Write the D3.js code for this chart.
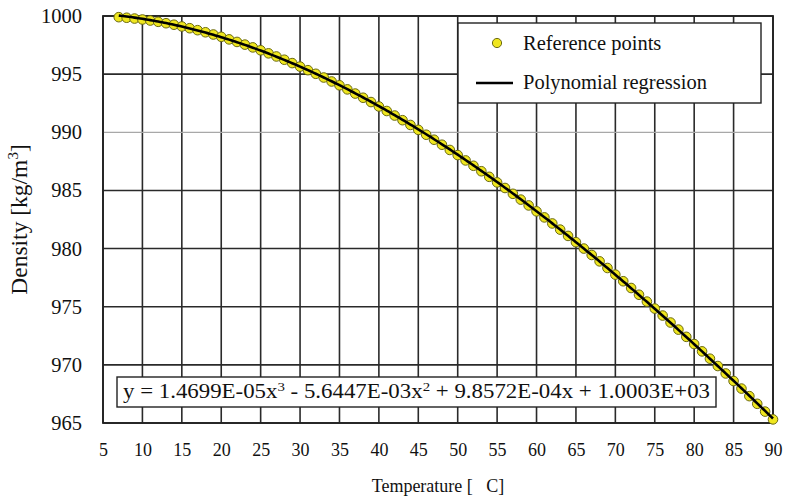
<!DOCTYPE html>
<html>
<head>
<meta charset="utf-8">
<script src="https://cdn.jsdelivr.net/npm/d3@7"></script>
<style>
  html, body { margin: 0; padding: 0; background: #fff; }
  svg { display: block; }
</style>
</head>
<body>
<svg id="chart" width="789" height="498"></svg>
<script>
// Water density reference points (kg/m3) by temperature (°C)
const temperatures = d3.range(7, 91);
const densities = [
  999.90, 999.85, 999.78, 999.70, 999.61, 999.50, 999.38, 999.25, 999.10, 998.95,
  998.78, 998.60, 998.41, 998.21, 997.99, 997.77, 997.54, 997.30, 997.05, 996.79,
  996.52, 996.24, 995.95, 995.65, 995.34, 995.03, 994.71, 994.37, 994.04, 993.69,
  993.33, 992.97, 992.60, 992.22, 991.83, 991.44, 991.04, 990.63, 990.21, 989.79,
  989.36, 988.93, 988.48, 988.04, 987.58, 987.12, 986.65, 986.17, 985.69, 985.21,
  984.71, 984.21, 983.71, 983.20, 982.68, 982.16, 981.63, 981.09, 980.55, 980.00,
  979.45, 978.90, 978.33, 977.76, 977.19, 976.61, 976.03, 975.44, 974.84, 974.24,
  973.64, 973.03, 972.41, 971.79, 971.16, 970.53, 969.90, 969.26, 968.61, 967.96,
  967.31, 966.65, 965.98, 965.31
];
// Cubic regression coefficients: a3, a2, a1, a0
const coefficients = [1.4699E-05, -5.6447E-03, 9.8572E-04, 1.0003E+03];
const xTicks = d3.range(5, 91, 5);
const yTicks = d3.range(965, 1001, 5);

const serif = '"Liberation Serif"';
const svg = d3.select("#chart");
const plotLeft = 103, plotRight = 773, plotTop = 16, plotBottom = 423;

const x = d3.scaleLinear().domain([5, 90]).range([plotLeft, plotRight]);
const y = d3.scaleLinear().domain([965, 1000]).range([plotBottom, plotTop]);

// Grid
const grid = svg.append("g");
grid.selectAll("line.v").data(xTicks).join("line").attr("class", "v")
  .attr("x1", d => x(d)).attr("x2", d => x(d))
  .attr("y1", plotTop).attr("y2", plotBottom)
  .attr("stroke", "#2a2a2a").attr("stroke-width", 1.6);
grid.selectAll("line.h").data(yTicks).join("line").attr("class", "h")
  .attr("x1", plotLeft).attr("x2", plotRight)
  .attr("y1", d => y(d)).attr("y2", d => y(d))
  .attr("stroke", d => d === 990 ? "#a8a8a8" : "#2a2a2a")
  .attr("stroke-width", d => d === 990 ? 1.2 : 1.6);
svg.append("rect")
  .attr("x", plotLeft).attr("y", plotTop)
  .attr("width", plotRight - plotLeft).attr("height", plotBottom - plotTop)
  .attr("fill", "none").attr("stroke", "#222").attr("stroke-width", 1.8);

// Axes (labels only)
const xAxis = svg.append("g").attr("transform", `translate(0,${plotBottom})`)
  .call(d3.axisBottom(x).tickValues(xTicks).tickFormat(d3.format("d")).tickSize(0).tickPadding(20));
xAxis.select(".domain").remove();
xAxis.selectAll("text").attr("font-size", 18);

const yAxis = svg.append("g").attr("transform", `translate(${plotLeft},0)`)
  .call(d3.axisLeft(y).tickValues(yTicks).tickFormat(d3.format("d")).tickSize(0).tickPadding(21));
yAxis.select(".domain").remove();
yAxis.selectAll("text").attr("font-size", 20.5);

// Axis titles
svg.append("text")
  .attr("x", (plotLeft + plotRight) / 2).attr("y", 492)
  .attr("text-anchor", "middle").attr("font-size", 18)
  .text("Temperature [\u00a0\u00a0\u00a0C]");

const yTitle = svg.append("text")
  .attr("transform", `translate(27,${(plotTop + plotBottom) / 2}) rotate(-90)`)
  .attr("text-anchor", "middle").attr("font-size", 23.5);
yTitle.append("tspan").text("Density [kg/m");
yTitle.append("tspan").attr("font-size", 15).attr("dy", -9).text("3");
yTitle.append("tspan").attr("dy", 9).text("]");

// Regression curve
const poly = t => coefficients[0] * t ** 3 + coefficients[1] * t ** 2 + coefficients[2] * t + coefficients[3];
const curveX = d3.range(7, 90.01, 0.25);
const line = d3.line().x(d => x(d)).y(d => y(poly(d)));

// Reference points
svg.append("g").selectAll("circle")
  .data(temperatures.map((t, i) => [t, densities[i]]))
  .join("circle")
  .attr("cx", d => x(d[0])).attr("cy", d => y(d[1]))
  .attr("r", 4.8)
  .attr("fill", "#efe61e").attr("stroke", "#6b6a12").attr("stroke-width", 1);

svg.append("path").datum(curveX)
  .attr("d", line).attr("fill", "none")
  .attr("stroke", "#000").attr("stroke-width", 2.6);

// Legend
const lg = svg.append("g");
lg.append("rect").attr("x", 458).attr("y", 23).attr("width", 303).attr("height", 80)
  .attr("fill", "#fff").attr("stroke", "#222").attr("stroke-width", 1.4);
lg.append("circle").attr("cx", 497).attr("cy", 43).attr("r", 4.6)
  .attr("fill", "#efe61e").attr("stroke", "#6b6a12").attr("stroke-width", 1);
lg.append("text").attr("x", 523).attr("y", 50).attr("font-size", 20.5).text("Reference points");
lg.append("line").attr("x1", 476).attr("x2", 513).attr("y1", 83).attr("y2", 83)
  .attr("stroke", "#000").attr("stroke-width", 2.6);
lg.append("text").attr("x", 523).attr("y", 89).attr("font-size", 20.5).text("Polynomial regression");

// Equation box
const eq = svg.append("g");
eq.append("rect").attr("x", 117).attr("y", 377).attr("width", 599).attr("height", 30)
  .attr("fill", "#fff").attr("stroke", "#222").attr("stroke-width", 1.4);
const eqText = eq.append("text").attr("x", 123).attr("y", 398).attr("font-size", 20)
  .attr("textLength", 587).attr("lengthAdjust", "spacingAndGlyphs");
const fmtCoef = v => Math.abs(v).toExponential(4).toUpperCase().replace(/E([+-])(\d)$/, "E$10$2");
eqText.append("tspan").text(`y = ${fmtCoef(coefficients[0])}x`);
eqText.append("tspan").attr("font-size", 13).attr("dy", -7).text("3");
eqText.append("tspan").attr("dy", 7).text(` - ${fmtCoef(coefficients[1])}x`);
eqText.append("tspan").attr("font-size", 13).attr("dy", -7).text("2");
eqText.append("tspan").attr("dy", 7).text(` + ${fmtCoef(coefficients[2])}x + ${fmtCoef(coefficients[3])}`);

// One serif face for every label
svg.selectAll("g").attr("font-family", null);
svg.selectAll("text").attr("font-family", serif).attr("fill", "#111");
</script>
</body>
</html>
